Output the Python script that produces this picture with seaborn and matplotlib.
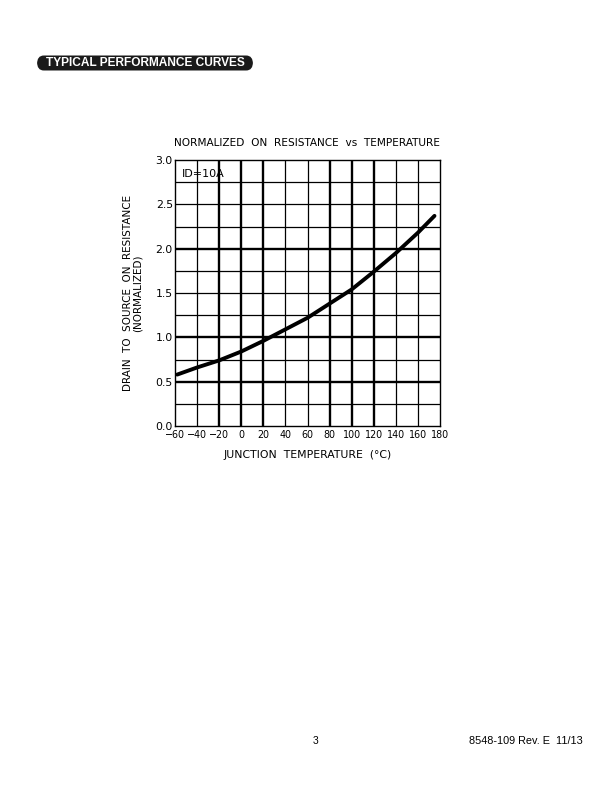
import matplotlib
matplotlib.use("Agg")
import matplotlib.pyplot as plt
import seaborn as sns
import pandas as pd
from matplotlib.patches import FancyBboxPatch

# ---- data ----
temp_c = [-58, -40, -20, 0, 20, 40, 60, 80, 100, 120, 140, 160, 175]
rds_norm = [0.58, 0.66, 0.74, 0.84, 0.96, 1.09, 1.22, 1.38, 1.54, 1.74, 1.95, 2.18, 2.37]

x_ticks = [-60, -40, -20, 0, 20, 40, 60, 80, 100, 120, 140, 160, 180]
x_tick_labels = ["\u221260", "\u221240", "\u221220", "0", "20", "40", "60", "80", "100", "120", "140", "160", "180"]
x_heavy = [-20, 0, 20, 80, 100, 120]
y_ticks = [0.0, 0.5, 1.0, 1.5, 2.0, 2.5, 3.0]
y_tick_labels = ["0.0", "0.5", "1.0", "1.5", "2.0", "2.5", "3.0"]
y_grid = [0.25, 0.5, 0.75, 1.0, 1.25, 1.5, 1.75, 2.0, 2.25, 2.5, 2.75]
y_heavy = [0.5, 1.0, 2.0]

title = "NORMALIZED  ON  RESISTANCE  vs  TEMPERATURE"
x_label = "JUNCTION  TEMPERATURE  (\u00b0C)"
y_label = "DRAIN  TO  SOURCE  ON  RESISTANCE\n(NORMALIZED)"
annotation = "ID=10A"
header = "TYPICAL PERFORMANCE CURVES"
page_no = "3"
doc_ref = "8548-109 Rev. E  11/13"

sns.set_theme(style="white")
plt.rcParams["font.family"] = ["DejaVu Sans"]
for k in ["text.color", "axes.labelcolor", "xtick.color", "ytick.color", "axes.titlecolor"]:
    plt.rcParams[k] = "black"

fig = plt.figure(figsize=(6.12, 7.92), dpi=100)
ax = fig.add_axes([175 / 612, 1 - 426 / 792, 265 / 612, 266 / 792])

df = pd.DataFrame({"T": temp_c, "R": rds_norm})

# grid
for xv in x_ticks[1:-1]:
    ax.axvline(xv, color="black", lw=1.7 if xv in x_heavy else 0.9, zorder=1)
for yv in y_grid:
    ax.axhline(yv, color="black", lw=1.7 if yv in y_heavy else 0.9, zorder=1)

sns.lineplot(data=df, x="T", y="R", ax=ax, color="black", lw=2.8, zorder=3)

ax.set_xlim(-60, 180)
ax.set_ylim(0, 3.0)
ax.set_xticks(x_ticks)
ax.set_xticklabels(x_tick_labels, fontsize=7.7, fontstretch="condensed")
ax.set_yticks(y_ticks)
ax.set_yticklabels(y_tick_labels, fontsize=7.8)
ax.tick_params(length=0)
ax.tick_params(axis="x", pad=3.2)
ax.tick_params(axis="y", pad=1.5)
for s in ax.spines.values():
    s.set_color("black")
    s.set_linewidth(1.0)
ax.set_xlabel(x_label, fontsize=7.8, labelpad=7)
ax.set_ylabel(y_label, fontsize=7.5, labelpad=9, linespacing=1.0)
ax.set_title(title, fontsize=7.6, pad=10)
ax.text(0.025, 0.965, annotation, transform=ax.transAxes, fontsize=8,
        ha="left", va="top", zorder=4)

# header pill
fig.add_artist(FancyBboxPatch((37 / 612, 1 - 70.5 / 792), 216 / 612, 15 / 792,
                              boxstyle="round,pad=0,rounding_size=0.011",
                              transform=fig.transFigure, facecolor="#1a1a1a",
                              edgecolor="none"))
fig.text(145 / 612, 1 - 63 / 792, header, color="white", fontsize=8.6,
         fontweight="bold", family="Liberation Sans", ha="center", va="center")

fig.text(316 / 612, 1 - 741 / 792, page_no, fontsize=7.5, ha="center", va="center",
         family="Liberation Sans")
fig.text(583 / 612, 1 - 741 / 792, doc_ref, fontsize=7.8, ha="right", va="center",
         family="Liberation Sans")

fig.savefig("out.png", dpi=100)
